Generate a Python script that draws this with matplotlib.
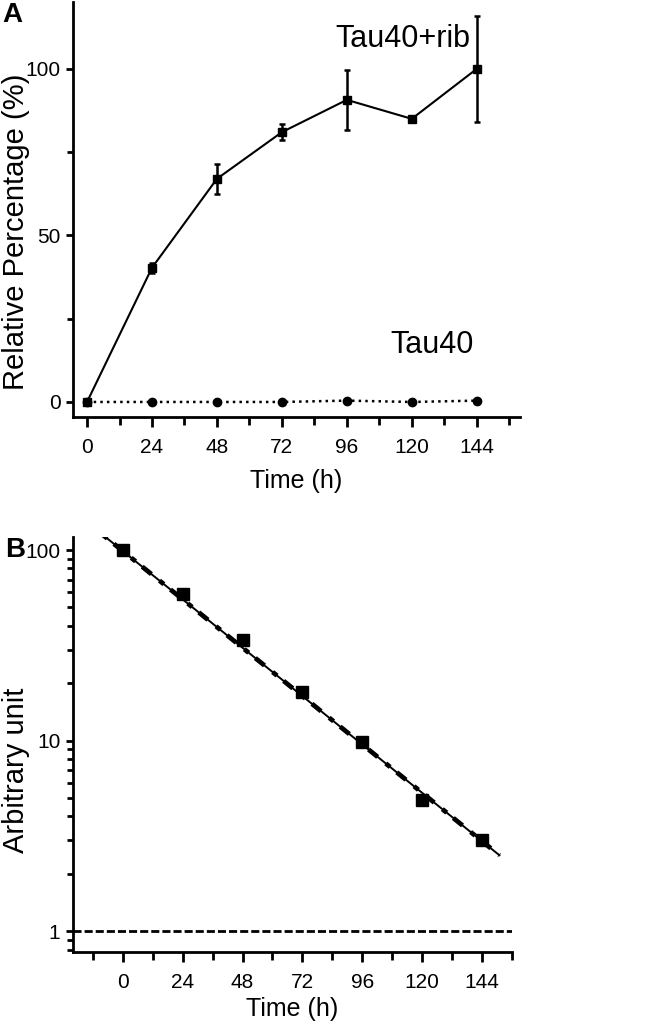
import matplotlib
matplotlib.use("Agg")
import matplotlib.pyplot as plt
from matplotlib.ticker import FixedLocator, NullFormatter, LogLocator
import numpy as np

plt.rcParams['font.family'] = ['Liberation Sans', 'DejaVu Sans']

# Panel A data
time_h = [0, 24, 48, 72, 96, 120, 144]
rib_pct = [0, 40.3, 67, 81, 90.7, 85, 100]
rib_err = [0, 1.5, 4.5, 2.5, 9, 0, 16]
tau_pct = [0, 0, 0, 0, 0.4, 0, 0.4]

# Panel B data
b_time = [0, 24, 48, 72, 96, 120, 144]
b_vals = [100, 58.5, 33.7, 17.9, 9.84, 4.9, 3.02]
fit_x = [-8, 151]
fit_y = [120, 2.5]
ref_x = [-20, 156]
ref_y = [1, 1]

xticks = [0, 24, 48, 72, 96, 120, 144]

fig = plt.figure(figsize=(6.61, 10.29), dpi=100)

def style(ax):
    for s in ['top', 'right']:
        ax.spines[s].set_visible(False)
    for s in ['left', 'bottom']:
        ax.spines[s].set_linewidth(2.0)
    ax.tick_params(which='major', direction='out', width=2.0, length=5, labelsize=15, pad=4)
    ax.tick_params(which='minor', direction='out', width=2.0, length=4)
    ax.tick_params(axis='x', which='major', length=7, pad=8)
    ax.tick_params(axis='x', which='minor', length=6)

# ---- Panel A ----
axA = fig.add_axes([0.1104, 0.5948, 0.6763, 0.403])
axA.plot(time_h, tau_pct, linestyle=':', color='black', lw=1.8, marker='o', ms=6, zorder=2)
axA.errorbar(time_h, rib_pct, yerr=rib_err, color='black', lw=1.5, marker='s', ms=5.5,
             capsize=2.5, elinewidth=1.8, capthick=1.8, zorder=3)
axA.set_xlim(-5.2, 160)
axA.set_ylim(-4.5, 120)
axA.set_xticks(xticks)
axA.xaxis.set_minor_locator(FixedLocator([12, 36, 60, 84, 108, 132, 156]))
axA.set_yticks([0, 50, 100])
axA.yaxis.set_minor_locator(FixedLocator([25, 75]))
style(axA)
axA.set_xlabel('Time (h)', fontsize=18, labelpad=9)
fig.text(16 / 661, 1 - 232 / 1029, 'Relative Percentage (%)', fontsize=21,
         rotation=90, ha='center', va='center')
axA.text(116.7, 109, 'Tau40+rib', fontsize=22, ha='center', va='center')
axA.text(127.4, 17, 'Tau40', fontsize=22, ha='center', va='center')
fig.text(0.004, 0.9854, 'A', fontsize=20, fontweight='bold', ha='left', va='center')

# ---- Panel B ----
axB = fig.add_axes([0.1104, 0.0748, 0.664, 0.4033])
axB.set_yscale('log')
axB.plot(fit_x, fit_y, color='black', lw=1.4, linestyle='-', zorder=2)
axB.plot(fit_x, fit_y, color='black', lw=3.4, linestyle=(0, (1.2, 1.8, 2.5, 2.2)), zorder=2)
axB.plot(ref_x, ref_y, color='black', lw=2.0, linestyle=(0, (2.9, 1.1)), zorder=2)
axB.plot(b_time, b_vals, linestyle='none', marker='s', ms=9, color='black', zorder=3)
axB.set_xlim(-20, 156)
axB.set_ylim(0.776, 117)
axB.set_xticks(xticks)
axB.xaxis.set_minor_locator(FixedLocator([-12, 12, 36, 60, 84, 108, 132, 156]))
axB.set_yticks([1, 10, 100])
axB.set_yticklabels(['1', '10', '100'])
axB.yaxis.set_minor_locator(LogLocator(base=10, subs=np.arange(2, 10)))
axB.yaxis.set_minor_formatter(NullFormatter())
style(axB)
axB.set_xlabel('Time (h)', fontsize=18, labelpad=4)
fig.text(16 / 661, 1 - 770 / 1029, 'Arbitrary unit', fontsize=21,
         rotation=90, ha='center', va='center')
fig.text(0.008, 0.4655, 'B', fontsize=20, fontweight='bold', ha='left', va='center')

fig.savefig('out.png', dpi=100)
